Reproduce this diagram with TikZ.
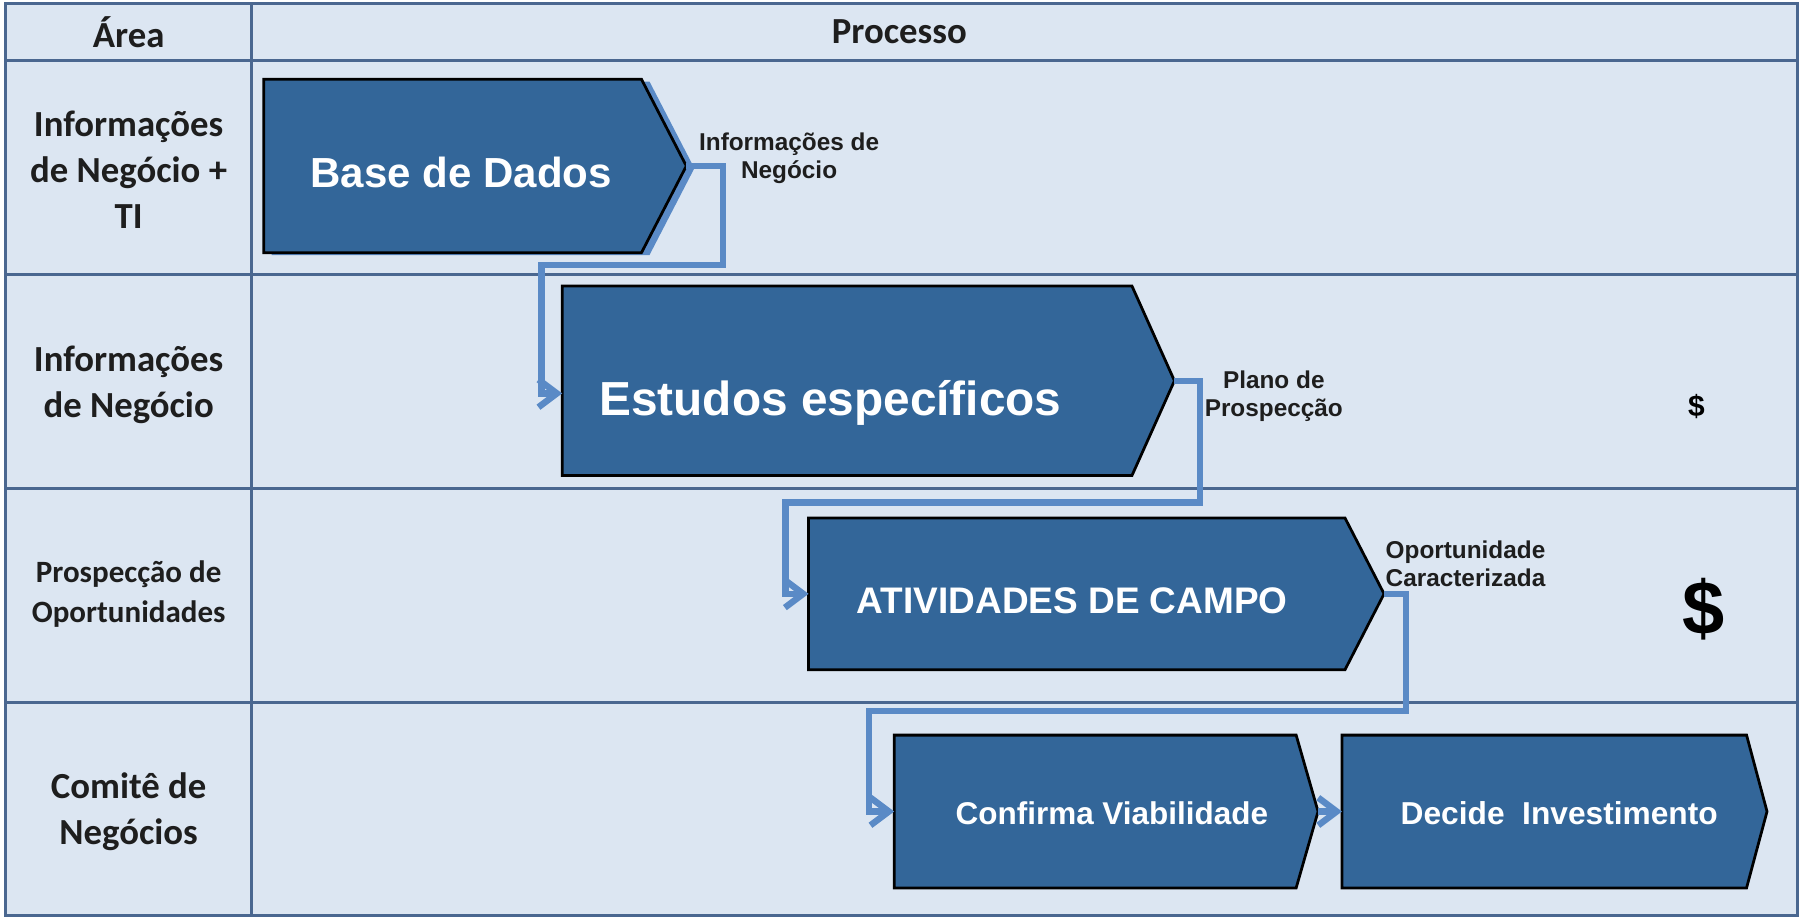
\documentclass[tikz,border=0pt]{standalone}
\usepackage{fontspec}
\setmainfont{Liberation Sans}
\newfontfamily\carlito{Carlito}
\usetikzlibrary{shapes.symbols,arrows.meta,shadows}
\definecolor{bgblue}{HTML}{DCE6F2}
\definecolor{gridblue}{HTML}{4A6790}
\definecolor{boxfill}{HTML}{336699}
\definecolor{flowblue}{HTML}{5A8AC6}
\definecolor{ink}{HTML}{1E1E1E}
\tikzset{
  chev/.style={signal, signal to=east, draw=black, line width=1.2pt, fill=boxfill, inner sep=0pt, outer sep=0pt},
  boxtext/.style={text=white, inner sep=0pt, anchor=base},
  arealbl/.style={font=\carlito\bfseries\fontsize{16}{20}\selectfont, text=ink, align=center, inner sep=0pt},
  flowlbl/.style={font=\bfseries\fontsize{10.6}{12.3}\selectfont, text=ink, inner sep=0pt},
  flow/.style={draw=flowblue, line width=2.8pt, line join=miter, -{Straight Barb[length=8pt,width=12pt]}},
  gridline/.style={draw=gridblue, line width=1.3pt},
}
\begin{document}
\begin{tikzpicture}[x=0.5pt,y=-0.5pt]
\useasboundingbox (0,0) rectangle (1568,800);
% table
\fill[bgblue] (5,3) rectangle (1565,797);
\draw[gridline] (5,53) -- (1565,53);
\draw[gridline] (5,239) -- (1565,239);
\draw[gridline] (5,425) -- (1565,425);
\draw[gridline] (5,612) -- (1565,612);
\draw[gridline] (219,3) -- (219,797);
\draw[gridline] (5,3) rectangle (1565,797);
% headers and lanes
\node[arealbl] (hArea) at (112,28) {Área};
\node[arealbl] (hProc) at (783,28) {Processo};
\node[arealbl] (lane1) at (112,148) {Informações\\de Negócio +\\TI};
\node[arealbl] (lane2) at (112,335) {Informações\\de Negócio};
\node[arealbl, font=\carlito\bfseries\fontsize{13.5}{17.5}\selectfont] (lane3) at (112,517) {Prospecção de\\Oportunidades};
\node[arealbl] (lane4) at (112,707) {Comitê de\\Negócios};
% process shapes
\node[chev, minimum width=184pt, minimum height=75.5pt, signal pointer angle=125.3,
  general shadow={shadow xshift=3.5pt, shadow yshift=-1pt, fill=flowblue}] (base) at (394,144.5) {};
\node[chev, minimum width=266.5pt, minimum height=82.5pt, signal pointer angle=131.7] (estudos) at (737.5,331.5) {};
\node[chev, minimum width=250.5pt, minimum height=66pt, signal pointer angle=125.5] (ativ) at (937.5,517) {};
\node[chev, minimum width=184.5pt, minimum height=66.5pt, signal pointer angle=148] (confirma) at (953.5,706.5) {};
\node[chev, minimum width=185pt, minimum height=66.5pt, signal pointer angle=150] (decide) at (1344.5,706.5) {};
% shape texts
\node[boxtext, font=\bfseries\fontsize{18.3}{22}\selectfont] (tbase) at (401.5,163) {Base de Dados};
\node[boxtext, font=\bfseries\fontsize{20.8}{25}\selectfont] (testudos) at (723,362) {Estudos específicos};
\node[boxtext, font=\bfseries\fontsize{16.1}{19}\selectfont] (tativ) at (933.5,534.5) {ATIVIDADES DE CAMPO};
\node[boxtext, font=\bfseries\fontsize{13.7}{16}\selectfont] (tconf) at (968,718) {Confirma Viabilidade};
\node[boxtext, font=\bfseries\fontsize{13.8}{16}\selectfont] (tdec) at (1357.5,718) {Decide\ \ Investimento};
% connectors
\draw[flow] (base.east) -- ++(32,0) -- ++(0,86) -| ([xshift=-9pt,yshift=-5.5pt]estudos.west) -- ([yshift=-5.5pt]estudos.west);
\draw[flow] (estudos.east) -- ++(22,0) -- ++(0,106) -| ([xshift=-10pt]ativ.west) -- (ativ.west);
\draw[flow] (ativ.east) -- ++(19,0) -- ++(0,102) -| ([xshift=-11pt]confirma.west) -- (confirma.west);
\draw[flow] (confirma.east) -- (decide.west);
% flow labels
\node[flowlbl, align=center] (l1) at (687,138) {Informações de\\Negócio};
\node[flowlbl, align=center] (l2) at (1109,345) {Plano de\\Prospecção};
\node[flowlbl, align=left, anchor=west] (l3) at (1206,491) {Oportunidade\\Caracterizada};
\node[font=\bfseries\fontsize{13}{15}\selectfont, text=black, inner sep=0pt] (d1) at (1477,354) {\$};
\node[font=\bfseries\fontsize{33}{38}\selectfont, text=black, inner sep=0pt] (d2) at (1483,530) {\$};
\end{tikzpicture}
\end{document}
